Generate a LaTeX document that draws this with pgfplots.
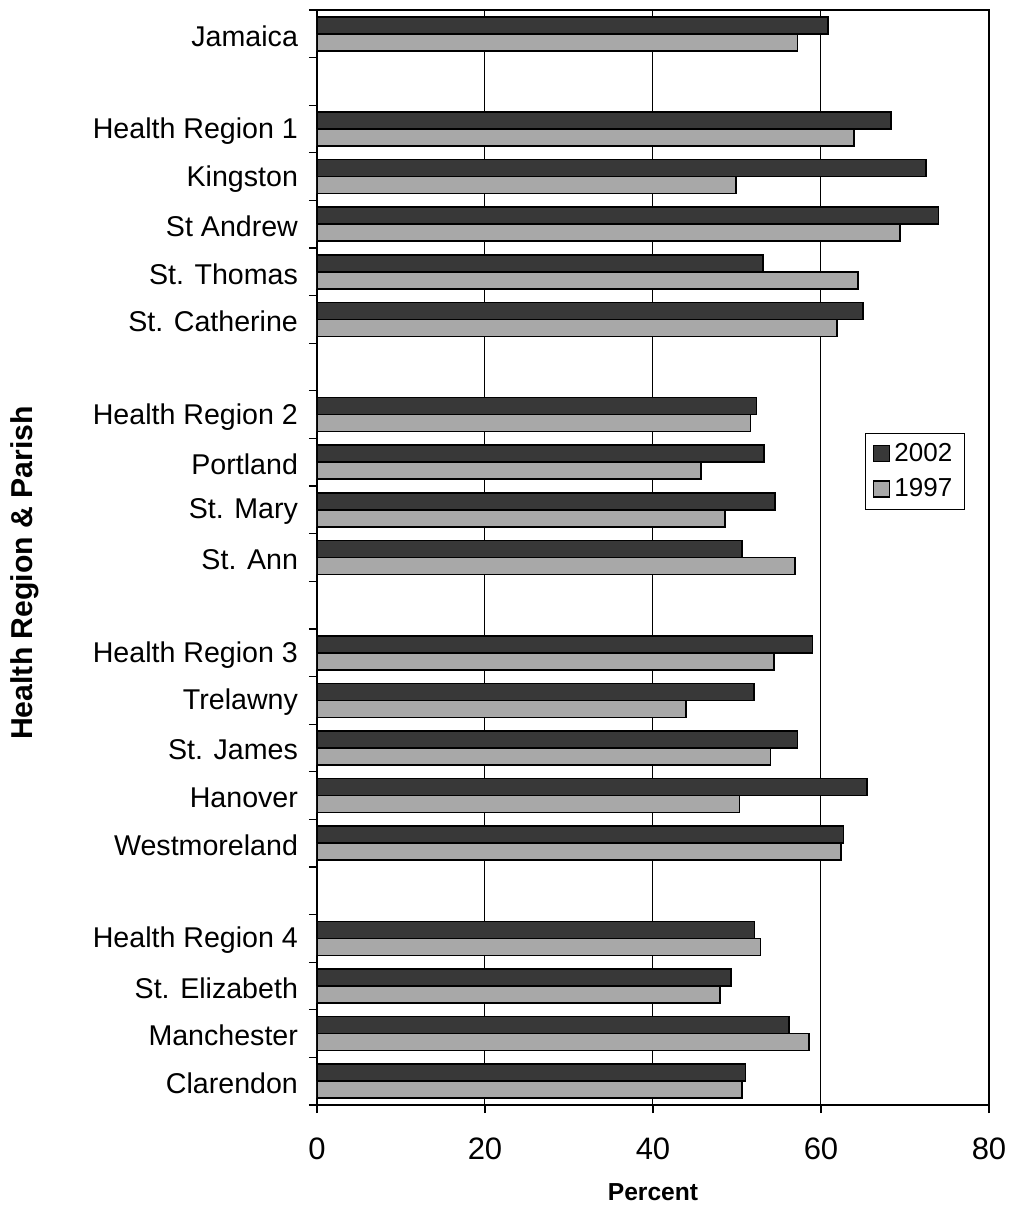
\documentclass[border=0pt]{standalone}
\usepackage{pgfplots}
\pgfplotsset{compat=1.18}
\usepackage{fontspec}
\setmainfont{Liberation Sans}

% Percentages by parish and health region, 2002 and 1997
% columns: slot (row position, top = 0), y2002, y1997
\pgfplotstableread{
slot y2002 y1997
0  60.8 57.2
2  68.3 63.9
3  72.5 49.9
4  74.0 69.4
5  53.1 64.4
6  65.0 61.9
8  52.3 51.6
9  53.2 45.7
10 54.5 48.6
11 50.6 56.9
13 59.0 54.4
14 52.0 43.9
15 57.2 54.0
16 65.5 50.3
17 62.7 62.4
19 52.1 52.8
20 49.3 48.0
21 56.2 58.6
22 51.0 50.6
}\datatable

\definecolor{darkbar}{gray}{0.22}
\definecolor{lightbar}{gray}{0.66}

\begin{document}
\begin{tikzpicture}
\begin{axis}[
  scale only axis,
  width=336pt, height=547.5pt,
  at={(0,0)}, anchor=south west,
  xmin=0, xmax=80,
  xtick={0,20,40,60,80},
  ymin=-0.5, ymax=22.5, y dir=reverse,
  ytick={0,2,3,4,5,6,8,9,10,11,13,14,15,16,17,19,20,21,22},
  yticklabels={Jamaica, Health Region 1, Kingston, St Andrew, St. Thomas,
    St. Catherine, Health Region 2, Portland, St. Mary, St. Ann,
    Health Region 3, Trelawny, St. James, Hanover, Westmoreland,
    Health Region 4, St. Elizabeth, Manchester, Clarendon},
  minor ytick={-0.5,0.5,...,22.5},
  major y tick style={draw=none},
  tick pos=left,
  tick align=outside,
  major tick length=4pt,
  minor tick length=4pt,
  tick style={black, line width=0.6pt},
  xmajorgrids,
  major grid style={black, line width=0.5pt},
  axis line style={black, line width=0.8pt},
  /pgf/number format/assume math mode=true,
  xticklabel style={font=\fontsize{15.5}{18}\selectfont, yshift=-9pt},
  yticklabel style={font=\fontsize{14.3}{17}\selectfont, xshift=-2pt, yshift=-1pt},
  xlabel={Percent},
  xlabel style={font=\fontsize{12.3}{14}\selectfont\bfseries,
    at={(axis description cs:0.5,-0.0795)}, anchor=center},
  ylabel={Health Region \& Parish},
  ylabel style={font=\fontsize{15.1}{18}\selectfont\bfseries,
    at={(axis description cs:-0.4345,0.486)}, anchor=center},
  xbar, bar width=8.5pt,
  legend style={at={(axis description cs:0.815,0.614)}, anchor=north west,
    draw=black, line width=0.6pt, font=\fontsize{13}{15}\selectfont,
    inner xsep=4pt, inner ysep=3pt, row sep=3pt,
    legend cell align=left},
  legend image code/.code={
    \draw[#1, line width=0.6pt] (0pt,-4pt) rectangle (8pt,4pt);},
]
\addplot[fill=darkbar, draw=black, line width=0.8pt, bar shift=4.25pt]
  table[x=y2002, y=slot] {\datatable};
\addplot[fill=lightbar, draw=black, line width=0.8pt, bar shift=-4.25pt]
  table[x=y1997, y=slot] {\datatable};
\legend{2002, 1997}
\end{axis}
\pgfresetboundingbox
\useasboundingbox (-158.5pt,-50pt) rectangle (349.5pt,552.5pt);
\end{tikzpicture}
\end{document}
